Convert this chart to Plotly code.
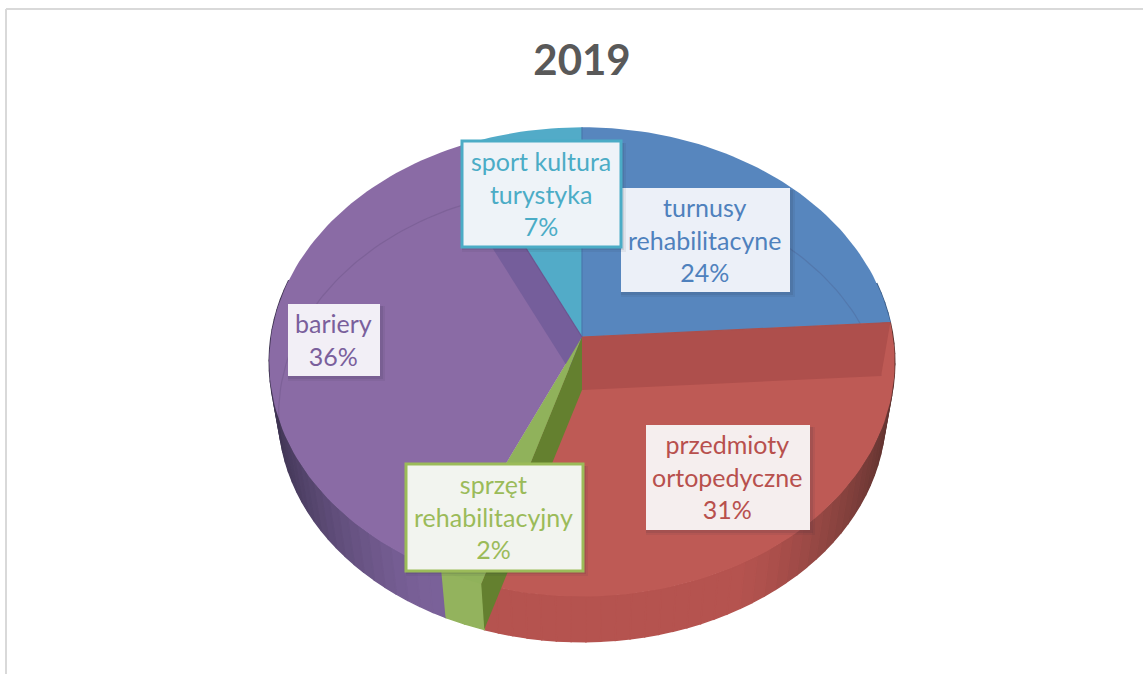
import math
import plotly.graph_objects as go

# ---- data -------------------------------------------------------------
title_text = "2019"
categories = ["turnusy<br>rehabilitacyne", "przedmioty<br>ortopedyczne",
              "sprzęt<br>rehabilitacyjny", "bariery", "sport kultura<br>turystyka"]
values = [24.0, 30.7, 2.0, 36.3, 7.0]

# ---- style ------------------------------------------------------------
face_colors = ["#5786BE", "#BE5A55", "#90B25B", "#8A6BA5", "#52ABC8"]
text_colors = ["#4F81BD", "#B8504D", "#9BBB59", "#7A5F9C", "#4BACC6"]
wall_base = ["#5786BE", "#B5534F", "#93B35D", "#7A6199", "#52ABC8"]
wall_dark = ["#3B5C86", "#5A312E", "#93B35D", "#3D3350", "#3B7E94"]
box_fills = ["#ECF0F8", "#F5EEEE", "#F2F4EF", "#F2EFF6", "#EEF3F8"]
box_lines = [None, None, "#9BBB59", None, "#4BACC6"]
box_rects = [(621, 188, 790, 292), (646, 425, 810, 530), (406, 464, 583, 571),
             (288, 304, 380, 376), (462, 141, 621, 247)]

# perspective disc -> page position
CX, CY, RX, RY, K = 582, 337, 311, 232, 0.106
DROP, SHRINK = 53, 0.97


def top(theta):
    u, v = math.sin(theta), math.cos(theta)
    w = 1 + K * v
    return CX + RX * u / w, CY - RY * v / w


def bottom(theta):
    x, y = top(theta)
    return CX + SHRINK * (x - CX), CY + DROP + SHRINK * (y - CY)


def mix(a, b, t):
    ca = [int(a[i:i + 2], 16) for i in (1, 3, 5)]
    cb = [int(b[i:i + 2], 16) for i in (1, 3, 5)]
    return "rgb(%d,%d,%d)" % tuple(round(p + (q - p) * t) for p, q in zip(ca, cb))


total = sum(values)
edges = [0.0]
for val in values:
    edges.append(edges[-1] + val / total * 2 * math.pi)

fig = go.Figure()


def poly(points, fill, line=None, width=0, name=""):
    xs = [p[0] for p in points] + [points[0][0]]
    ys = [p[1] for p in points] + [points[0][1]]
    fig.add_trace(go.Scatter(
        x=xs, y=ys, mode="lines", fill="toself", fillcolor=fill,
        line=dict(color=line or fill, width=width if line else 0),
        hoverinfo="skip", showlegend=False, name=name))


def arc(a, b, step=math.radians(1.5)):
    n = max(2, int(abs(b - a) / step) + 1)
    return [a + (b - a) * i / (n - 1) for i in range(n)]


# outer wall, front part only, shaded toward the silhouette
for i in range(len(values)):
    angles = arc(edges[i], edges[i + 1], math.radians(2.5))
    for a, b in zip(angles[:-1], angles[1:]):
        mid = (a + b) / 2
        if math.cos(mid) > 0.25:
            continue
        t = max(0.0, abs(math.sin(mid)) - 0.45) / 0.55
        col = mix(wall_base[i], wall_dark[i], t ** 1.4)
        poly([top(a), top(b), bottom(b), bottom(a)], col, line=col, width=1.5)

# top faces
for i in range(len(values)):
    rim = [top(a) for a in arc(edges[i], edges[i + 1])]
    poly([(CX, CY)] + rim, face_colors[i], name=categories[i].replace("<br>", " "))

# faint far rim of the bottom disc, seen through the top
far = [bottom(a) for a in arc(math.radians(-100), edges[1])]
fig.add_trace(go.Scatter(x=[p[0] for p in far], y=[p[1] for p in far], mode="lines",
                         line=dict(color="rgba(60,50,90,0.16)", width=1.2),
                         hoverinfo="skip", showlegend=False))

apex_low = (CX, CY + DROP)


def inner_wall(theta, colour):
    poly([(CX, CY), top(theta), bottom(theta), apex_low], colour)


inner_wall(edges[1], "#AE4F4C")   # blue / red boundary
inner_wall(edges[4], "#755E9B")   # purple / cyan boundary

# green slice sits over the purple wall, dark wall beside it
poly([(CX, CY)] + [top(a) for a in arc(edges[2], edges[3])], face_colors[2])
poly([top(edges[2]), top(edges[3]), bottom(edges[3]), bottom(edges[2])], wall_base[2])
inner_wall(edges[2], "#64802F")

# slice seams
for theta, c in ((edges[0], "#4A78AE"), (edges[1], "#A8504E"), (edges[4], "#6A5590")):
    x, y = top(theta)
    fig.add_trace(go.Scatter(x=[CX, x], y=[CY, y], mode="lines",
                             line=dict(color=c, width=1.2), hoverinfo="skip", showlegend=False))

# ---- labels -----------------------------------------------------------
shapes = [
    dict(type="line", xref="x", yref="y", x0=6, y0=9, x1=1143, y1=9,
         line=dict(color="#D9D9D9", width=2), layer="below"),
    dict(type="line", xref="x", yref="y", x0=6, y0=9, x1=6, y1=674,
         line=dict(color="#D9D9D9", width=2), layer="below"),
]
annotations = []
for i, (x0, y0, x1, y1) in enumerate(box_rects):
    for off, alpha in ((5, 0.07), (3, 0.10)):
        shapes.append(dict(type="rect", xref="x", yref="y", x0=x0, y0=y0 + 2, x1=x1 + off, y1=y1 + off,
                           fillcolor="rgba(40,40,60,%s)" % alpha, line=dict(width=0)))
    border = box_lines[i]
    shapes.append(dict(type="rect", xref="x", yref="y", x0=x0, y0=y0, x1=x1, y1=y1,
                       fillcolor=box_fills[i],
                       line=dict(color=border, width=3) if border else dict(width=0)))
    pct = round(values[i] / total * 100)
    annotations.append(dict(
        x=(x0 + x1) / 2 - 1, y=(y0 + y1) / 2 - 1, xref="x", yref="y", showarrow=False,
        text=f"{categories[i]}<br>{pct}%", align="center",
        font=dict(family="Lato, Carlito, sans-serif", size=25, color=text_colors[i])))

fig.update_layout(
    width=1143, height=674, margin=dict(l=0, r=0, t=0, b=0),
    paper_bgcolor="white", plot_bgcolor="white", showlegend=False,
    title=dict(text=f"<b>{title_text}</b>", x=582 / 1143, y=1 - 60 / 674,
               xanchor="center", yanchor="middle",
               font=dict(family="Lato, Carlito, sans-serif", size=42, color="#595959")),
    xaxis=dict(range=[0, 1143], visible=False, fixedrange=True),
    yaxis=dict(range=[674, 0], visible=False, fixedrange=True),
    shapes=shapes, annotations=annotations,
)

fig.write_html("out.html", config=dict(displayModeBar=False, responsive=False),
               post_script="document.body.style.margin='0';document.documentElement.style.overflow='hidden';")
